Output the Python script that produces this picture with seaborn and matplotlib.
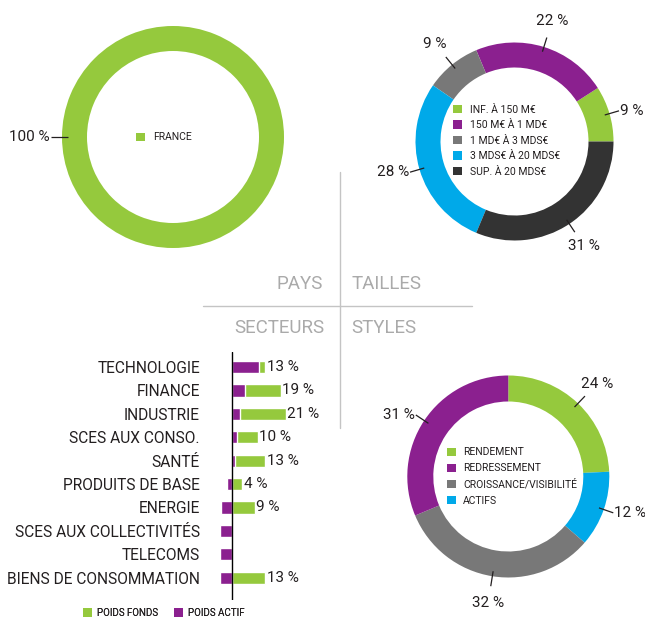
import matplotlib
matplotlib.use("Agg")
import numpy as np
import pandas as pd
import seaborn as sns
import matplotlib.pyplot as plt
from matplotlib.patches import Patch

# ---------------- data ----------------
pays_labels = ["FRANCE"]
pays_values = [100]

taille_labels = ["INF. À 150 M€", "150 M€ À 1 MD€", "1 MD€ À 3 MDS€",
                 "3 MDS€ À 20 MDS€", "SUP. À 20 MDS€"]
taille_values = [9, 22, 9, 28, 31]

style_labels = ["RENDEMENT", "REDRESSEMENT", "CROISSANCE/VISIBILITÉ", "ACTIFS"]
style_values = [24, 31, 32, 12]

secteurs = ["TECHNOLOGIE", "FINANCE", "INDUSTRIE", "SCES AUX CONSO.", "SANTÉ",
            "PRODUITS DE BASE", "ENERGIE", "SCES AUX COLLECTIVITÉS", "TELECOMS",
            "BIENS DE CONSOMMATION"]
poids_fonds = [13, 19, 21, 10, 13, 4, 9, 0, 0, 13]
poids_actif = [10.4, 5.2, 3.3, 2.1, 1.0, -2.1, -4.1, -4.8, -4.8, -4.8]

section_titles = ["PAYS", "TAILLES", "SECTEURS", "STYLES"]
bar_legend = ["POIDS FONDS", "POIDS ACTIF"]

# ---------------- style ----------------
GREEN = "#95c93d"
PURPLE = "#8b208f"
GREY = "#787878"
BLUE = "#00a9e9"
DARK = "#333333"
TXT = "#231f20"
LIGHT = "#aaaaaa"

sns.set_theme(style="white")
plt.rcParams["font.family"] = ["Roboto", "DejaVu Sans"]

W, H = 645, 620
fig = plt.figure(figsize=(W / 100, H / 100), dpi=100)
ax = fig.add_axes([0, 0, 1, 1])


def Y(y):
    return H - y


def donut(values, colors, cx, cy, R, width, start, ccw):
    center = (cx, Y(cy))
    wedges, _ = ax.pie(values, colors=colors, radius=R, center=center,
                       startangle=start, counterclock=ccw,
                       wedgeprops=dict(width=width, linewidth=0))
    for w, v in zip(wedges, values):
        a = np.deg2rad((w.theta1 + w.theta2) / 2)
        c, s = np.cos(a), np.sin(a)
        x1, y1 = center[0] + 1.1 * R * c, center[1] + 1.1 * R * s
        ax.plot([center[0] + 0.95 * R * c, x1],
                [center[1] + 0.95 * R * s, y1],
                color=TXT, lw=0.9, solid_capstyle="butt")
        if abs(c) > 0.8:
            ax.text(x1 + np.sign(c) * 1.0, y1, f"{v} %",
                    ha="left" if c > 0 else "right", va="center",
                    fontsize=11, color=TXT)
        else:
            ax.text(center[0] + 1.27 * R * c, center[1] + 1.27 * R * s, f"{v} %",
                    ha="center", va="center", fontsize=11, color=TXT)


# PAYS
donut(pays_values, [GREEN], 173, 137, 111, 25, 0, True)
# TAILLES
donut(taille_values, [GREEN, PURPLE, GREY, BLUE, DARK], 514.5, 141.5, 99, 25, 0, True)
# STYLES (clockwise from top: rendement, actifs, croissance, redressement)
style_colors = [GREEN, PURPLE, GREY, BLUE]
order = [0, 3, 2, 1]
donut([style_values[i] for i in order], [style_colors[i] for i in order],
      508.3, 476.5, 101, 26, 90, False)

ax.set_xlim(0, W)
ax.set_ylim(0, H)
ax.set_aspect("equal")
ax.axis("off")

# cross lines & section titles
ax.plot([203, 472], [Y(306), Y(306)], color="#c4c4c4", lw=1)
ax.plot([340, 340], [Y(172), Y(428)], color="#c4c4c4", lw=1)
ax.text(323, Y(284), section_titles[0], ha="right", va="center", fontsize=13.5, color=LIGHT)
ax.text(351.5, Y(284), section_titles[1], ha="left", va="center", fontsize=13.5, color=LIGHT)
ax.text(324, Y(328), section_titles[2], ha="right", va="center", fontsize=13.5, color=LIGHT)
ax.text(351.5, Y(328), section_titles[3], ha="left", va="center", fontsize=13.5, color=LIGHT)


def legend(labels, colors, x, y, fs=7.5, spacing=0.4):
    handles = [Patch(facecolor=c, edgecolor="none") for c in colors]
    lg = ax.legend(handles, labels, loc="center left", bbox_to_anchor=(x, Y(y)),
                   bbox_transform=ax.transData, frameon=False, fontsize=fs,
                   handlelength=0.85, handleheight=0.85, handletextpad=0.75,
                   labelspacing=spacing, borderpad=0, borderaxespad=0,
                   labelcolor=TXT)
    ax.add_artist(lg)
    return lg


legend(pays_labels, [GREEN], 136, 137.5)
legend(taille_labels, [GREEN, PURPLE, GREY, BLUE, DARK], 453.3, 140.7, spacing=0.53)
legend(style_labels, style_colors, 446.7, 476.5, spacing=0.57)

bl = ax.legend([Patch(facecolor=GREEN, edgecolor="none"), Patch(facecolor=PURPLE, edgecolor="none")],
               bar_legend, loc="center left", bbox_to_anchor=(83, Y(613)),
               bbox_transform=ax.transData, frameon=False, fontsize=7, ncol=2,
               handlelength=0.95, handleheight=0.95, handletextpad=0.5,
               columnspacing=1.6, borderpad=0, borderaxespad=0, labelcolor=TXT)
ax.add_artist(bl)

# ---------------- bar chart ----------------
px_per_pct = 2.57
x0_px = 232
xmin, xmax = -6, 30
row_px = 23.4
top_px, bot_px = 352, 600
ylim_top = -(367 - top_px) / row_px
ylim_bot = 9 + (bot_px - 577.7) / row_px
axb = fig.add_axes([(x0_px + xmin * px_per_pct) / W, Y(bot_px) / H,
                    (xmax - xmin) * px_per_pct / W, (bot_px - top_px) / H])
df = pd.DataFrame({"secteur": secteurs, "fonds": poids_fonds, "actif": poids_actif})
sns.barplot(data=df, y="secteur", x="fonds", color=GREEN, saturation=1,
            width=0.52, ax=axb, orient="h")
sns.barplot(data=df, y="secteur", x="actif", color=PURPLE, saturation=1,
            width=0.52, ax=axb, orient="h")
axb.set_xlim(xmin, xmax)
axb.set_ylim(ylim_bot, ylim_top)
axb.axvline(0, color="black", lw=1)
for i, v in enumerate(poids_fonds):
    if v > 0:
        axb.text(v + 0.5, i, f"{v} %", ha="left", va="center", fontsize=11, color=TXT)
axb.set_xlabel("")
axb.set_ylabel("")
axb.set_xticks([])
axb.tick_params(axis="y", length=0, pad=12, labelsize=11.2, labelcolor=TXT)
for sp in axb.spines.values():
    sp.set_visible(False)
axb.patch.set_alpha(0)

fig.savefig("out.png", dpi=100)
